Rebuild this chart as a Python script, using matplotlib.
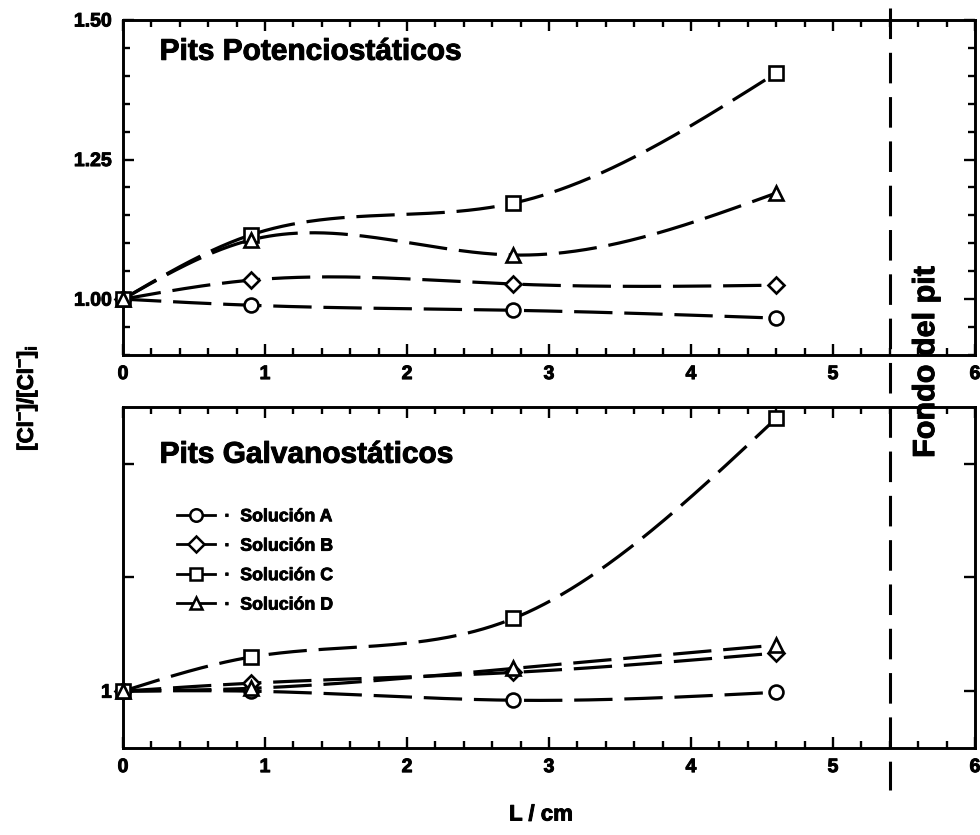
import numpy as np
import matplotlib
matplotlib.use('Agg')
import matplotlib.pyplot as plt
import matplotlib.patheffects as pe
from matplotlib.lines import Line2D
from matplotlib.ticker import MultipleLocator, FixedLocator, FixedFormatter

plt.rcParams['font.family'] = ['Liberation Sans', 'DejaVu Sans']
plt.rcParams['font.weight'] = 'bold'
plt.rcParams['mathtext.fontset'] = 'custom'
plt.rcParams['mathtext.rm'] = 'Liberation Sans:bold'
plt.rcParams['mathtext.it'] = 'Liberation Sans:bold'
plt.rcParams['mathtext.bf'] = 'Liberation Sans:bold'

####### data #######
L = [0, 0.9, 2.75, 4.6]
series = ['Solución A', 'Solución B', 'Solución C', 'Solución D']
markers = ['o', 'D', 's', '^']

# potenciostaticos
pot_A = [1.00, 0.989, 0.980, 0.966]
pot_B = [1.00, 1.034, 1.027, 1.025]
pot_C = [1.00, 1.115, 1.172, 1.405]
pot_D = [1.00, 1.106, 1.079, 1.190]

# galvanostaticos
gal_A = [1.00, 1.000, 0.984, 0.998]
gal_B = [1.00, 1.014, 1.033, 1.067]
gal_C = [1.00, 1.060, 1.128, 1.480]
gal_D = [1.00, 1.005, 1.040, 1.081]

L_fondo = 5.4

thick = [pe.withStroke(linewidth=0.7, foreground='black')]


def spline(x, y, xs):
    # natural cubic spline (like the curve the original plot uses)
    x = np.asarray(x, float)
    y = np.asarray(y, float)
    n = len(x)
    h = np.diff(x)
    A = np.zeros((n, n))
    b = np.zeros(n)
    A[0, 0] = A[-1, -1] = 1
    for i in range(1, n - 1):
        A[i, i - 1] = h[i - 1]
        A[i, i] = 2 * (h[i - 1] + h[i])
        A[i, i + 1] = h[i]
        b[i] = 6 * ((y[i + 1] - y[i]) / h[i] - (y[i] - y[i - 1]) / h[i - 1])
    M = np.linalg.solve(A, b)
    k = np.clip(np.searchsorted(x, xs) - 1, 0, n - 2)
    t1 = x[k + 1] - xs
    t0 = xs - x[k]
    hk = h[k]
    return (M[k] * t1**3 / (6 * hk) + M[k + 1] * t0**3 / (6 * hk)
            + (y[k] / hk - M[k] * hk / 6) * t1
            + (y[k + 1] / hk - M[k + 1] * hk / 6) * t0)


fig = plt.figure(figsize=(9.8, 8.35), dpi=100)
ax1 = fig.add_axes([0.1255, 0.5749, 0.8694, 0.4012])
ax2 = fig.add_axes([0.1255, 0.1042, 0.8694, 0.4084])

lw = 2.3
dash = (12.0, 3.7)


def draw(ax, ys, legend=False):
    xs = np.linspace(L[0], L[-1], 300)
    for y, m, name in zip(ys, markers, series):
        ax.plot(xs, spline(L, y, xs), color='black', lw=lw, dashes=dash,
                zorder=2, clip_on=False)
        ms = 8.5 if m == 'D' else 10
        ax.plot(L, y, linestyle='none', marker=m, ms=ms, mfc='white',
                mec='black', mew=1.9, zorder=3, clip_on=False)
    if legend:
        hs = []
        for m, name in zip(markers, series):
            ms = 8 if m == 'D' else 9
            hs.append(Line2D([], [], color='black', lw=2, marker=m, ms=ms,
                             mfc='white', mec='black', mew=1.8))
        leg = ax.legend(hs, ['·  ' + s for s in series], loc='upper left',
                        bbox_to_anchor=(0.045, 0.75), frameon=False,
                        handlelength=2.1, handletextpad=0.55,
                        labelspacing=0.7,
                        prop={'size': 12.8, 'weight': 'bold'})
        for t in leg.get_texts():
            t.set_path_effects([pe.withStroke(linewidth=0.6, foreground='black')])


draw(ax1, [pot_A, pot_B, pot_C, pot_D])
draw(ax2, [gal_A, gal_B, gal_C, gal_D], legend=True)

ax1.yaxis.set_major_locator(FixedLocator([1.0, 1.25, 1.5]))
ax1.yaxis.set_major_formatter(FixedFormatter(['1.00', '1.25', '1.50']))
ax1.yaxis.set_minor_locator(MultipleLocator(0.05))

ax2.yaxis.set_major_locator(FixedLocator([1.0, 1.2, 1.4]))
ax2.yaxis.set_major_formatter(FixedFormatter(['1', '', '']))
ax2.yaxis.set_minor_locator(FixedLocator([]))

for ax in (ax1, ax2):
    ax.set_xlim(0, 6)
    ax.set_ylim(0.9, 1.5)
    ax.xaxis.set_major_locator(MultipleLocator(1))
    ax.xaxis.set_minor_locator(MultipleLocator(0.2))
    ax.tick_params(which='both', direction='in', top=True, right=True,
                   width=1.7, labelsize=14)
    ax.tick_params(which='major', length=8)
    ax.tick_params(axis='x', which='major', pad=8)
    ax.tick_params(axis='y', which='major', pad=8)
    ax.tick_params(which='minor', length=5)
    for s in ax.spines.values():
        s.set_linewidth(2.1)
    for t in ax.get_xticklabels() + ax.get_yticklabels():
        t.set_fontweight('bold')
        t.set_path_effects(thick)

ax1.text(0.043, 0.905, 'Pits Potenciostáticos', transform=ax1.transAxes,
         fontsize=21.5, fontweight='bold', va='center', ha='left',
         path_effects=thick)
ax2.text(0.043, 0.86, 'Pits Galvanostáticos', transform=ax2.transAxes,
         fontsize=21.5, fontweight='bold', va='center', ha='left',
         path_effects=thick)

# linea fondo del pit, cruza ambos paneles
xf = 0.1255 + L_fondo / 6 * 0.8694
fig.add_artist(Line2D([xf, xf], [1 - 8 / 835, 1 - 790 / 835], color='black',
                      lw=2.2, dashes=(10, 4.5)))
fig.text(0.945, 1 - 362 / 835, 'Fondo del pit', rotation=90, fontsize=22,
         fontweight='bold', ha='center', va='center', path_effects=thick)

fig.text(0.552, 1 - 815 / 835, 'L / cm', fontsize=16, fontweight='bold',
         ha='center', va='center', path_effects=thick)
fig.text(0.028, 1 - 398 / 835, r'[Cl$^{-}$]/[Cl$^{-}$]$_{i}$', rotation=90,
         fontsize=16, fontweight='bold', ha='center', va='center',
         path_effects=thick)

fig.savefig('out.png', dpi=100)
